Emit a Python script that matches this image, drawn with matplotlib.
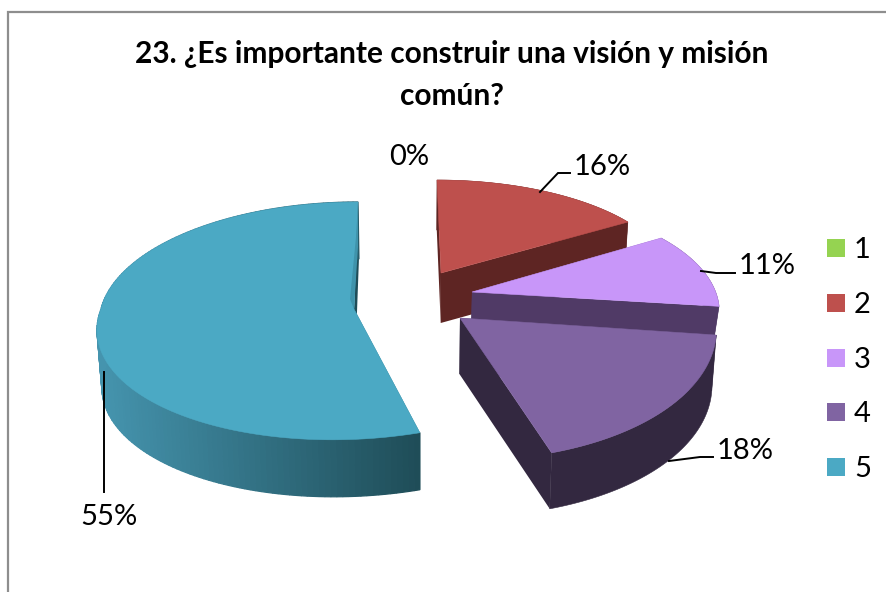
import numpy as np
import matplotlib
matplotlib.use("Agg")
import matplotlib.pyplot as plt
from matplotlib.patches import Polygon, Rectangle
from matplotlib.colors import to_rgb

title = "23. ¿Es importante construir una visión y misión\ncomún?"
categories = ["1", "2", "3", "4", "5"]
values = [0, 16, 11, 18, 55]
labels = ["0%", "16%", "11%", "18%", "55%"]
colors = ["#95D351", "#BE504D", "#C896F9", "#8064A2", "#4BA9C4"]
wall_colors = ["#5A7F30", "#5E2523", "#503A66", "#332840", "#4594AE"]

# apparent projection of each exploded slice: apex x, y, half width, half height,
# perspective, shear above and below the centre, wall height
geometry = {
    1: (441, 273, 230, 97.7, 0.051, -4.2, -4.2, 50),
    2: (472, 292, 243.6, 111.5, 0.2, 6.7, 6.7, 29),
    3: (460, 318, 255.5, 135, 0.05, -8.8, -8.8, 56),
    4: (354, 309, 253, 117.7, 0.1, 4.4, 19.5, 57),
}
vanish_x, converge = 421, 0.015
label_pos = [(409, 157), (602, 167), (767, 266), (745, 451), (109, 517)]
leaders = [None,
           [(540, 192), (558, 173), (570, 173)],
           [(701, 271), (716, 273), (735, 273)],
           [(669, 461), (700, 457), (713, 457)],
           [(104, 372), (104, 492)]]

plt.rcParams["font.family"] = ["Lato", "DejaVu Sans"]
fig = plt.figure(figsize=(8.86, 5.92), dpi=100)
ax = fig.add_axes([0, 0, 1, 1])
ax.set_xlim(0, 886)
ax.set_ylim(592, 0)
ax.axis("off")

# chart frame
ax.plot([8, 8, 886], [592, 12, 12], color="#8E8E8E", lw=1.6, solid_joinstyle="miter", zorder=1)


def top_point(t, g):
    cx, cy, a, b, k, st, sb, d = g
    u, v = np.sin(t), np.cos(t)
    s = 1 / (1 + k * v)
    shear = np.where(v > 0, st, sb)
    return cx + (a * u + shear * v) * s, cy - b * v * s


def lower(x, y, d):
    return x + (vanish_x - x) * converge, y + d


edges = np.radians(np.cumsum([0] + values) * 360 / sum(values))
z = 2
c0, c1 = np.array(to_rgb("#4594AE")), np.array(to_rgb("#1F4D58"))
for i in [1, 2, 3, 4]:
    g = geometry[i]
    cx, cy, d = g[0], g[1], g[7]
    t = np.linspace(edges[i], edges[i + 1], 481)
    x, y = top_point(t, g)
    bx, by = lower(x, y, d)
    abx, aby = lower(cx, cy, d)
    wall = wall_colors[i]
    # radial walls
    for j in (0, -1):
        ax.add_patch(Polygon([(cx, cy), (x[j], y[j]), (bx[j], by[j]), (abx, aby)],
                             closed=True, fc=wall if i != 4 else "#1F4D58",
                             ec="none", zorder=z))
    # outer wall, shaded along x on the big slice
    if i == 4:
        step = 3
        for m in range(0, len(t) - step, step):
            f = np.clip((x[m] - 100) / 320, 0, 1)
            col = tuple(c0 + (c1 - c0) * f)
            ids = np.arange(m, m + step + 1)
            pts = np.column_stack([np.r_[x[ids], bx[ids][::-1]], np.r_[y[ids], by[ids][::-1]]])
            ax.add_patch(Polygon(pts, closed=True, fc=col, ec=col, lw=0.9, zorder=z + 0.1))
    else:
        pts = np.column_stack([np.r_[x, bx[::-1]], np.r_[y, by[::-1]]])
        ax.add_patch(Polygon(pts, closed=True, fc=wall, ec=wall, lw=0.4, zorder=z + 0.1))
    # top face
    ax.add_patch(Polygon(np.column_stack([np.r_[cx, x], np.r_[cy, y]]), closed=True,
                         fc=colors[i], ec=colors[i], lw=0.4, zorder=z + 0.2))
    if i == 4:
        # inner wall sliver seen at the closing edge of the big slice
        ox, oy = x[-1], y[-1]
        ax.add_patch(Polygon([(ox, oy), (ox, oy + 45), (cx, cy), (cx - 4, cy - 10),
                              (ox - 2, oy + 35)], closed=True, fc="#3F93AB", ec="none",
                             zorder=z + 0.3))
    z += 1

# leader lines and value labels
for lab, pos, lead in zip(labels, label_pos, leaders):
    if lead is not None:
        lx, ly = zip(*lead)
        ax.plot(lx, ly, color="black", lw=1.4, zorder=20, solid_joinstyle="miter")
    ax.text(pos[0], pos[1], lab, fontsize=21, ha="center", va="center", color="black", zorder=21)

# legend
for n, (cat, col) in enumerate(zip(categories, colors)):
    yc = 248 + n * 54.8
    ax.add_patch(Rectangle((827, yc - 9), 18, 18, fc=col, ec="none", zorder=20))
    ax.text(854, yc + 2, cat, fontsize=21, ha="left", va="center", color="black", zorder=21)

ax.text(452, 75, title, fontsize=21.5, fontweight="bold", ha="center", va="center",
        linespacing=1.58, color="black", zorder=21)

fig.savefig("out.png", dpi=100)
